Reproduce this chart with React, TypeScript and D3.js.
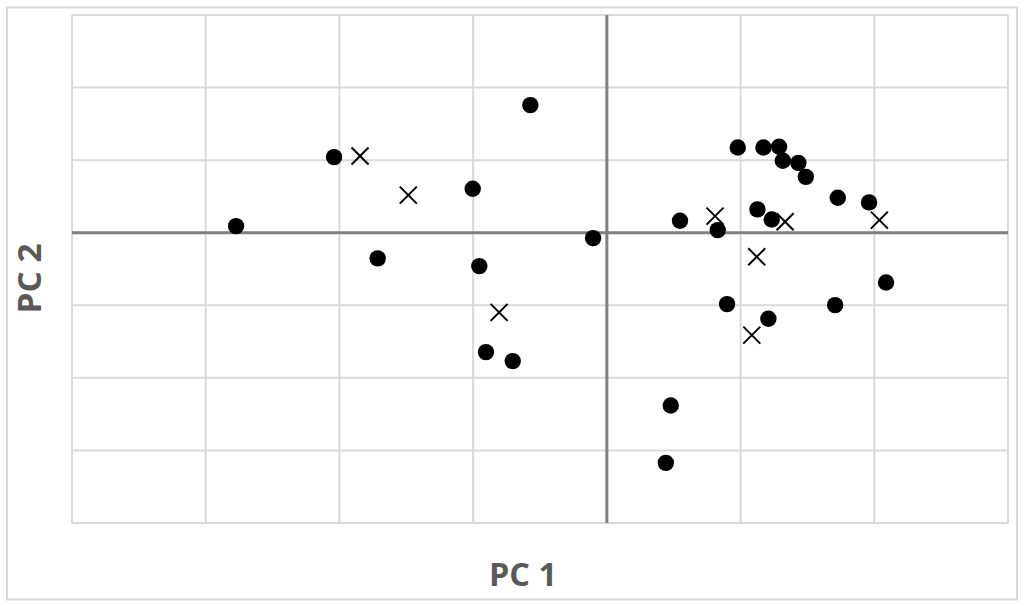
import React from "react";
import * as d3 from "d3";

const circleX = [-2.773, -2.04, -1.714, -1.003, -0.572, -0.954, -0.904, -0.704, -0.103, 0.547, 0.829, 0.979, 1.171, 1.288, 1.316, 1.432, 1.488, 1.727, 1.961, 1.126, 1.233, 0.899, 1.208, 1.707, 2.088, 0.478, 0.441];
const circleY = [0.091, 1.042, -0.354, 0.605, 1.758, -0.46, -1.645, -1.769, -0.074, 0.164, 0.036, 1.175, 1.175, 1.184, 0.991, 0.963, 0.77, 0.481, 0.418, 0.321, 0.183, -0.984, -1.186, -0.998, -0.685, -2.38, -3.171];
const crossX = [-1.846, -1.485, -0.806, 0.809, 1.333, 2.038, 1.121, 1.084];
const crossY = [1.056, 0.518, -1.098, 0.229, 0.15, 0.174, -0.332, -1.411];
const xTicks = [-4, -3, -2, -1, 0, 1, 2, 3];
const yTicks = [-4, -3, -2, -1, 0, 1, 2, 3];
const xTitle = "PC 1";
const yTitle = "PC 2";

export default function App() {
  const W = 1024, H = 606;
  const left = 72, right = 1008, top = 15, bottom = 523;
  const x = d3.scaleLinear().domain([-4, 3]).range([left, right]);
  const y = d3.scaleLinear().domain([-4, 3]).range([bottom, top]);
  const grid = "#d9d9d9";
  const axis = "#7f7f7f";
  const cs = 8.5;
  return (
    <svg width={W} height={H} style={{ position: "absolute", left: 0, top: 0 }}>
      <rect x={0} y={0} width={W} height={H} fill="#fff" />
      <rect x={7} y={7.5} width={1010} height={592} fill="none" stroke={grid} strokeWidth={2} />
      {xTicks.filter(t => t !== 0).map(t => (
        <line key={"gx" + t} x1={x(t)} x2={x(t)} y1={top} y2={bottom} stroke={grid} strokeWidth={2} />
      ))}
      {yTicks.filter(t => t !== 0).map(t => (
        <line key={"gy" + t} x1={left} x2={right} y1={y(t)} y2={y(t)} stroke={grid} strokeWidth={2} />
      ))}
      <line x1={x(0)} x2={x(0)} y1={top} y2={bottom} stroke={axis} strokeWidth={3} />
      <line x1={left} x2={right} y1={y(0)} y2={y(0)} stroke={axis} strokeWidth={3} />
      {circleX.map((v, i) => (
        <circle key={"c" + i} cx={x(v)} cy={y(circleY[i])} r={8.2} fill="#000" />
      ))}
      {crossX.map((v, i) => {
        const cx = x(v), cy = y(crossY[i]);
        return (
          <g key={"x" + i} stroke="#000" strokeWidth={2}>
            <line x1={cx - cs} y1={cy - cs} x2={cx + cs} y2={cy + cs} />
            <line x1={cx - cs} y1={cy + cs} x2={cx + cs} y2={cy - cs} />
          </g>
        );
      })}
      <text x={523} y={586} textAnchor="middle" fontFamily="'Open Sans', Lato, sans-serif" fontWeight="bold" fontSize={33} fill="#595959" textLength={68} lengthAdjust="spacingAndGlyphs">{xTitle}</text>
      <text transform="translate(41,278.5) rotate(-90)" textAnchor="middle" fontFamily="'Open Sans', Lato, sans-serif" fontWeight="bold" fontSize={33} fill="#595959" textLength={70} lengthAdjust="spacingAndGlyphs">{yTitle}</text>
    </svg>
  );
}
